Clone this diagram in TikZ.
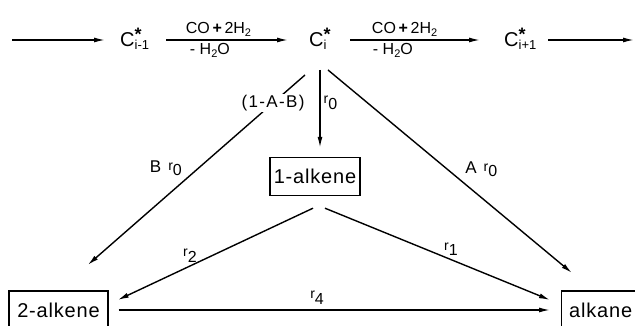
\documentclass[tikz,border=0pt]{standalone}
\usepackage{fontspec}
\setmainfont{Liberation Sans}
\usetikzlibrary{arrows.meta,calc}
\newcommand{\spc}[1]{C\rlap{\raisebox{6pt}{\fontsize{18}{18}\selectfont\bfseries *}}\raisebox{-3pt}{\fontsize{13}{13}\selectfont #1}}
\newcommand{\rr}[1]{\raisebox{2pt}{\fontsize{14}{14}\selectfont r}\raisebox{-3.5pt}{\fontsize{16}{16}\selectfont #1}}
\newcommand{\sbt}[1]{\raisebox{-3pt}{\fontsize{11}{11}\selectfont #1}}
\begin{document}
\begin{tikzpicture}[x=1pt,y=1pt,
  arr/.style={line width=1.4pt,-{Latex[length=11pt,width=5pt]}},
  spec/.style={inner sep=0pt,anchor=base west,font=\fontsize{20}{22}\selectfont},
  prod/.style={draw,line width=1.4pt,minimum height=38pt,inner sep=0pt,font=\fontsize{20}{22}\selectfont\addfontfeature{LetterSpace=4}},
  lab/.style={font=\fontsize{16}{18}\selectfont,inner sep=1pt},
  dlab/.style={font=\fontsize{17}{19}\selectfont\addfontfeature{LetterSpace=8},inner sep=1pt}]
\useasboundingbox (0,0) rectangle (635,326);
\clip (0,0) rectangle (635,326);
\coordinate (row) at (0,286);
\coordinate (s0) at (12,286);
\coordinate (e3) at (634,286);
\node[spec] (cim1) at (120,279) {\spc{i-1}};
\node[spec] (ci) at (309,279) {\spc{i}};
\node[spec] (cip1) at (504,279) {\spc{i+1}};
\node[prod, minimum width=90pt] (alk1) at (315,149.5) {1-alkene};
\node[prod, minimum width=99pt] (alk2) at (58.5,16) {2-alkene};
\node[prod, minimum width=78pt, anchor=west] (alkane) at (561,16) {alkane};
% top chain
\draw[arr, shorten >=15pt] (s0) -- (cim1.west |- row);
\draw[arr] ([xshift=46pt]cim1.west |- row) -- ([xshift=-21pt]ci.west |- row)
  node[lab, pos=0.43, anchor=south, yshift=2pt] {CO\,{\bfseries+}\,2H\sbt{2}}
  node[lab, pos=0.36, anchor=north, yshift=-2pt] {- H\sbt{2}O};
\draw[arr] ([xshift=41pt]ci.west |- row) -- ([xshift=-24pt]cip1.west |- row)
  node[lab, pos=0.42, anchor=south, yshift=2pt] {CO\,{\bfseries+}\,2H\sbt{2}}
  node[lab, pos=0.33, anchor=north, yshift=-2pt] {- H\sbt{2}O};
\draw[arr] ([xshift=44pt]cip1.west |- row) -- (e3);
% from C_i
\coordinate (vtop) at ($(ci.base west)+(11,-23)$);
\draw[arr, shorten >=9pt] (vtop) -- (vtop |- alk1.north)
  node[dlab, pos=0.38, anchor=west, xshift=2pt] {\rr{0}};
\draw[arr] ($(ci.base west)+(-4,-28)$) -- ($(alk2.east)+(-21,45)$)
  node[dlab, pos=0.147, fill=white, inner sep=1pt] {(1-A-B)}
  node[dlab, pos=0.49, anchor=east, xshift=-15pt] {B\hspace{7pt}\rr{0}};
\draw[arr] ($(ci.base west)+(19,-23)$) -- ($(alkane.west)+(11,37)$)
  node[dlab, pos=0.49, anchor=west, xshift=16pt] {A\hspace{7pt}\rr{0}};
% from 1-alkene
\draw[arr] ($(alk1.south)+(-2,-12)$) -- ($(alk2.east)+(9,10)$)
  node[dlab, pos=0.63, anchor=south, yshift=2pt] {\rr{2}};
\draw[arr] ($(alk1.south)+(10,-12)$) -- ($(alkane.west)+(-11,10)$)
  node[dlab, pos=0.56, anchor=south, yshift=2pt] {\rr{1}};
\draw[arr] ($(alk2.east)+(10,0)$) -- ($(alkane.west)+(-11,0)$)
  node[dlab, pos=0.46, anchor=south, yshift=4pt] {\rr{4}};
\end{tikzpicture}
\end{document}
